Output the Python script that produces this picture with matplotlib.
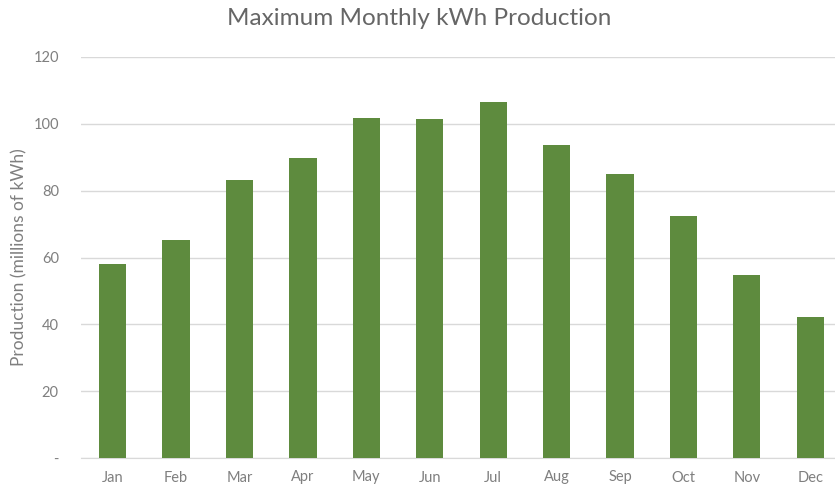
import matplotlib.pyplot as plt
import numpy as np

months = ['Jan', 'Feb', 'Mar', 'Apr', 'May', 'Jun', 'Jul', 'Aug', 'Sep', 'Oct', 'Nov', 'Dec']
production = [58, 65.3, 83.2, 89.7, 101.8, 101.3, 106.6, 93.8, 85, 72.4, 54.8, 42.2]
yticks = [0, 20, 40, 60, 80, 100, 120]
ytick_labels = ['-', '20', '40', '60', '80', '100', '120']

plt.rcParams['font.family'] = ['Lato', 'DejaVu Sans']

fig = plt.figure(figsize=(8.35, 4.92), dpi=100)
ax = fig.add_axes([81/835, 34/492, 754/835, 401/492])

x = np.arange(len(months))
ax.bar(x, production, width=0.43, color='#5e8b3e', zorder=3)

ax.set_xlim(-0.5, 11.39)
ax.set_ylim(0, 120)
ax.set_yticks(yticks)
ax.set_yticklabels(ytick_labels)
ax.set_xticks(x)
ax.set_xticklabels(months)
ax.tick_params(axis='both', length=0, labelsize=10.5, colors='#7f7f7f', pad=9)
ax.tick_params(axis='y', pad=16)
ax.grid(axis='y', color='#d9d9d9', linewidth=1, zorder=0)
for s in ['top', 'right', 'left']:
    ax.spines[s].set_visible(False)
ax.spines['bottom'].set_color('#d9d9d9')

ax.set_ylabel('Production (millions of kWh)', fontsize=12.5, color='#7f7f7f')
ax.yaxis.set_label_coords(-0.071, 0.5)
fig.text(0.502, 0.962, 'Maximum Monthly kWh Production', ha='center', va='center',
         fontsize=17.5, color='#666666')

fig.savefig('out.png', dpi=100)
